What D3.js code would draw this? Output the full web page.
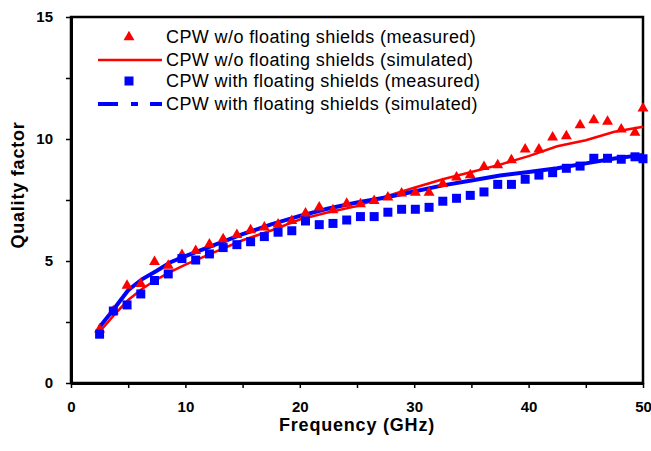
<!DOCTYPE html>
<html>
<head>
<meta charset="utf-8">
<script src="https://cdn.jsdelivr.net/npm/d3@7"></script>
<style>
  body { margin: 0; background: #fff; }
  svg { font-family: "Liberation Sans", Arial, sans-serif; }
  .tick text { font-weight: bold; font-size: 15px; fill: #000; }
  .axis-label { font-weight: bold; font-size: 18px; letter-spacing: 0.8px; }
  .legend text { font-size: 18px; letter-spacing: 0.4px; }
</style>
</head>
<body>
<div id="chart"></div>
<script>
// measured frequencies (GHz)
let measFreq = [2.5, 3.7, 4.9, 6.1, 7.3, 8.5, 9.7, 10.9, 12.1, 13.3, 14.5, 15.7, 16.9, 18.1, 19.3,
    20.5, 21.7, 22.9, 24.1, 25.3, 26.5, 27.7, 28.9, 30.1, 31.3, 32.5, 33.7, 34.9, 36.1, 37.3,
    38.5, 39.7, 40.9, 42.1, 43.3, 44.5, 45.7, 46.9, 48.1, 49.3, 50];
let measNoShield = [2.2, 2.95, 3.99, 4.06, 4.97, 4.81, 5.25, 5.42, 5.68, 5.9, 6.07, 6.27, 6.38, 6.5, 6.65,
    6.95, 7.2, 7.09, 7.35, 7.33, 7.47, 7.61, 7.77, 7.8, 7.8, 8.16, 8.43, 8.52, 8.86, 8.93,
    9.14, 9.58, 9.58, 10.07, 10.12, 10.57, 10.78, 10.71, 10.4, 10.26, 11.26];
let measShield = [2.0, 2.95, 3.2, 3.65, 4.2, 4.47, 5.1, 5.04, 5.29, 5.55, 5.67, 5.79, 6.0, 6.18, 6.24,
    6.64, 6.49, 6.54, 6.68, 6.82, 6.82, 7.0, 7.12, 7.12, 7.2, 7.45, 7.57, 7.69, 7.83, 8.14,
    8.14, 8.35, 8.52, 8.62, 8.8, 8.89, 9.21, 9.21, 9.17, 9.27, 9.19];

// simulated curves
let simFreq = [2.5, 3.7, 5, 6.2, 7.5, 8.7, 10, 12.5, 15, 17.5, 20, 22.5, 25, 27.5, 30, 32.5, 35,
    37.5, 40, 42.5, 45, 47.5, 50];
let simNoShield = [2.1, 2.75, 3.4, 3.85, 4.25, 4.55, 4.85, 5.35, 5.85, 6.25, 6.7, 7.0, 7.25, 7.65,
    8.0, 8.35, 8.65, 8.95, 9.3, 9.7, 9.95, 10.3, 10.5];
let simShield = [2.3, 3.0, 3.8, 4.25, 4.6, 4.95, 5.2, 5.65, 6.1, 6.5, 6.85, 7.15, 7.4, 7.6,
    7.85, 8.1, 8.3, 8.5, 8.65, 8.8, 9.0, 9.2, 9.35];

let legendLabels = [
    "CPW w/o floating shields (measured)",
    "CPW w/o floating shields (simulated)",
    "CPW with floating shields (measured)",
    "CPW with floating shields (simulated)"
];
let xTicks = [0, 5, 10, 15, 20, 25, 30, 35, 40, 45, 50];
let yTicks = [0, 2.5, 5, 7.5, 10, 12.5, 15];

const w = 651;
const h = 451;
const padLeft = 71, padRight = 643, padTop = 17, padBottom = 383;

const xScale = d3.scaleLinear()
    .domain([0, 50])
    .range([padLeft, padRight]);

const yScale = d3.scaleLinear()
    .domain([0, 15])
    .range([padBottom, padTop]);

const svg = d3.select("#chart")
    .append("svg")
    .attr("width", w)
    .attr("height", h);

// frame
svg.append("rect")
    .attr("x", padLeft)
    .attr("y", padTop)
    .attr("width", padRight - padLeft)
    .attr("height", padBottom - padTop)
    .attr("fill", "none")
    .attr("stroke", "#000")
    .attr("stroke-width", 2.5);

const xAxis = d3.axisBottom(xScale)
    .tickValues(xTicks)
    .tickSize(5)
    .tickSizeOuter(0)
    .tickPadding(13)
    .tickFormat(d => d % 10 === 0 ? d : "");

const yAxis = d3.axisLeft(yScale)
    .tickValues(yTicks)
    .tickSize(5)
    .tickSizeOuter(0)
    .tickPadding(13)
    .tickFormat(d => d % 5 === 0 ? d : "");

svg.append("g")
    .attr("transform", "translate(0," + padBottom + ")")
    .call(xAxis)
    .call(g => g.select(".domain").attr("stroke-width", 3))
    .call(g => g.selectAll(".tick line").attr("stroke-width", 1.5));

svg.append("g")
    .attr("transform", "translate(" + padLeft + ",0)")
    .call(yAxis)
    .call(g => g.select(".domain").attr("stroke-width", 3))
    .call(g => g.selectAll(".tick line").attr("stroke-width", 1.5));

svg.append("text")
    .text("Quality factor")
    .attr("class", "axis-label")
    .style("text-anchor", "middle")
    .attr("transform", "rotate(-90)")
    .attr("x", -185)
    .attr("y", 24);

svg.append("text")
    .text("Frequency (GHz)")
    .attr("class", "axis-label")
    .style("text-anchor", "middle")
    .attr("x", 357)
    .attr("y", 431);

// simulated lines
const line = d3.line()
    .x(d => xScale(d[0]))
    .y(d => yScale(d[1]));

svg.append("path")
    .datum(simFreq.map((f, i) => [f, simNoShield[i]]))
    .attr("d", line)
    .attr("fill", "none")
    .attr("stroke", "#ff0000")
    .attr("stroke-width", 2.5);

svg.append("path")
    .datum(simFreq.map((f, i) => [f, simShield[i]]))
    .attr("d", line)
    .attr("fill", "none")
    .attr("stroke", "#0000ff")
    .attr("stroke-width", 4);

// measured markers
const tri = d3.symbol().type(d3.symbolTriangle).size(52);
const sq = d3.symbol().type(d3.symbolSquare).size(81);

svg.selectAll(".tri")
    .data(measFreq.map((f, i) => [f, measNoShield[i]]))
    .enter()
    .append("path")
    .attr("class", "tri")
    .attr("d", tri)
    .attr("transform", d => "translate(" + xScale(d[0]) + "," + yScale(d[1]) + ")")
    .attr("fill", "#ff0000");

svg.selectAll(".sq")
    .data(measFreq.map((f, i) => [f, measShield[i]]))
    .enter()
    .append("path")
    .attr("class", "sq")
    .attr("d", sq)
    .attr("transform", d => "translate(" + xScale(d[0]) + "," + yScale(d[1]) + ")")
    .attr("fill", "#0000ff");

// legend
const legend = svg.append("g").attr("class", "legend");
const rowY = [37, 60, 81, 104];

legend.append("path")
    .attr("d", tri)
    .attr("transform", "translate(129," + rowY[0] + ")")
    .attr("fill", "#ff0000");
legend.append("line")
    .attr("x1", 98).attr("x2", 162)
    .attr("y1", rowY[1]).attr("y2", rowY[1])
    .attr("stroke", "#ff0000")
    .attr("stroke-width", 2.5);
legend.append("path")
    .attr("d", sq)
    .attr("transform", "translate(129," + rowY[2] + ")")
    .attr("fill", "#0000ff");
legend.append("line")
    .attr("x1", 98).attr("x2", 162)
    .attr("y1", rowY[3]).attr("y2", rowY[3])
    .attr("stroke", "#0000ff")
    .attr("stroke-width", 4)
    .attr("stroke-dasharray", "20,13,7,12");

legend.selectAll("text")
    .data(legendLabels)
    .enter()
    .append("text")
    .text(d => d)
    .attr("x", 166)
    .attr("y", (d, i) => rowY[i] + 6);
</script>
</body>
</html>
